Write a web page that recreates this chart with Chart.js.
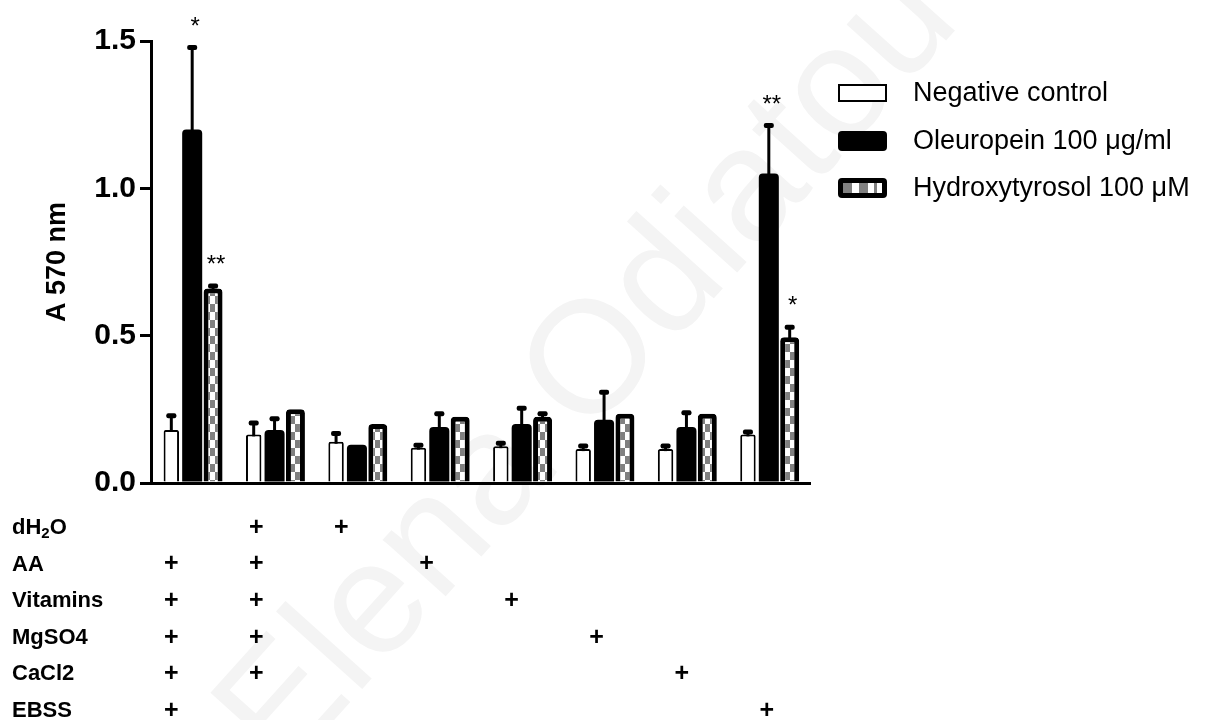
<!DOCTYPE html>
<html>
<head>
<meta charset="utf-8">
<script src="https://cdn.jsdelivr.net/npm/chart.js@4.4.1/dist/chart.umd.min.js"></script>
<style>
  html, body { margin: 0; background: #fff; }
</style>
</head>
<body>
<canvas id="chart" width="1206" height="720"></canvas>
<script>
// conditions along the x axis (composition shown in the table under the plot)
const conditions = ['Complete', 'dH2O + complete', 'dH2O', 'AA', 'Vitamins', 'MgSO4', 'CaCl2', 'EBSS'];

const seriesNames = ['Negative control', 'Oleuropein 100 \u03bcg/ml', 'Hydroxytyrosol 100 \u03bcM'];

const negativeControl = [0.18, 0.165, 0.14, 0.12, 0.125, 0.115, 0.115, 0.165];
const negativeErr     = [0.05, 0.04, 0.03, 0.01, 0.012, 0.012, 0.012, 0.01];
const oleuropein      = [1.20, 0.18, 0.13, 0.19, 0.20, 0.215, 0.19, 1.05];
const oleuropeinErr   = [0.28, 0.04, 0, 0.047, 0.055, 0.095, 0.05, 0.165];
const hydroxytyrosol  = [0.66, 0.25, 0.20, 0.225, 0.225, 0.235, 0.235, 0.495];
const hydroxyErr      = [0.01, 0, 0, 0, 0.012, 0, 0, 0.035];

const negativeStars = ['', '', '', '', '', '', '', ''];
const oleuropeinStars = ['*', '', '', '', '', '', '', '**'];
const hydroxyStars = ['**', '', '', '', '', '', '', '*'];

const yTicks = [0, 0.5, 1.0, 1.5];
const yTitle = 'A 570 nm';

// composition table
const rowLabels = ['dH_2O', 'AA', 'Vitamins', 'MgSO4', 'CaCl2', 'EBSS'];
const hasDH2O     = [0, 1, 1, 0, 0, 0, 0, 0];
const hasAA       = [1, 1, 0, 1, 0, 0, 0, 0];
const hasVitamins = [1, 1, 0, 0, 1, 0, 0, 0];
const hasMgSO4    = [1, 1, 0, 0, 0, 1, 0, 0];
const hasCaCl2    = [1, 1, 0, 0, 0, 0, 1, 0];
const hasEBSS     = [1, 0, 0, 0, 0, 0, 0, 1];
const tableRows = [hasDH2O, hasAA, hasVitamins, hasMgSO4, hasCaCl2, hasEBSS];

const FONT = '"Liberation Sans", Arial, Helvetica, sans-serif';

// grey / white checker used for the hydroxytyrosol bars
const makePattern = () => {
  const c = document.createElement('canvas');
  c.width = 10; c.height = 16;
  const g = c.getContext('2d');
  g.fillStyle = '#fff';
  g.fillRect(0, 0, 10, 16);
  g.fillStyle = '#808080';
  g.fillRect(0, 0, 5, 8);
  g.fillRect(5, 8, 5, 8);
  return document.getElementById('chart').getContext('2d').createPattern(c, 'repeat');
};
const checker = makePattern();

const roundRect = (ctx, x, y, w, h, r) => {
  ctx.beginPath();
  ctx.moveTo(x + r, y);
  ctx.lineTo(x + w - r, y);
  ctx.quadraticCurveTo(x + w, y, x + w, y + r);
  ctx.lineTo(x + w, y + h - r);
  ctx.quadraticCurveTo(x + w, y + h, x + w - r, y + h);
  ctx.lineTo(x + r, y + h);
  ctx.quadraticCurveTo(x, y + h, x, y + h - r);
  ctx.lineTo(x, y + r);
  ctx.quadraticCurveTo(x, y, x + r, y);
  ctx.closePath();
};

const watermark = {
  id: 'watermark',
  beforeDraw(chart) {
    const { ctx } = chart;
    ctx.save();
    ctx.translate(590, 370);
    ctx.rotate(-48 * Math.PI / 180);
    ctx.font = `160px ${FONT}`;
    ctx.fillStyle = '#f4f4f4';
    ctx.textAlign = 'center';
    ctx.textBaseline = 'middle';
    ctx.fillText('Elena Odiatou', 0, 0);
    ctx.restore();
  }
};

const errorBars = {
  id: 'errorBars',
  afterDatasetsDraw(chart) {
    const { ctx, scales: { y } } = chart;
    chart.data.datasets.forEach((ds, i) => {
      chart.getDatasetMeta(i).data.forEach((bar, j) => {
        const err = ds.errors[j];
        const top = y.getPixelForValue(ds.data[j] + err);
        ctx.save();
        ctx.fillStyle = '#000';
        ctx.strokeStyle = '#000';
        if (err > 0) {
          ctx.lineWidth = 3;
          ctx.beginPath();
          ctx.moveTo(bar.x, bar.y + 2);
          ctx.lineTo(bar.x, top);
          ctx.stroke();
          roundRect(ctx, bar.x - 5, top - 2, 10, 5, 2);
          ctx.fill();
        }
        const star = ds.stars[j];
        if (star) {
          ctx.font = `24px ${FONT}`;
          ctx.textAlign = 'center';
          ctx.textBaseline = 'middle';
          ctx.fillText(star, bar.x + 3, top - 20);
        }
        ctx.restore();
      });
    });
  }
};

const legendBox = {
  id: 'legendBox',
  afterDraw(chart) {
    const { ctx } = chart;
    const left = chart.chartArea.right + 28;
    const rowY = [93, 141, 188];
    chart.data.datasets.forEach((ds, i) => {
      const yy = rowY[i];
      ctx.save();
      if (i === 0) {
        ctx.fillStyle = '#fff';
        ctx.fillRect(left, yy - 9, 49, 18);
        ctx.lineWidth = 2;
        ctx.strokeStyle = '#000';
        ctx.strokeRect(left + 1, yy - 8, 47, 16);
      } else if (i === 1) {
        ctx.fillStyle = '#000';
        roundRect(ctx, left, yy - 10, 49, 20, 4);
        ctx.fill();
      } else {
        ctx.fillStyle = '#000';
        roundRect(ctx, left, yy - 10, 49, 20, 4);
        ctx.fill();
        ctx.fillStyle = '#fff';
        ctx.fillRect(left + 5, yy - 5, 39, 10);
        ctx.fillStyle = '#808080';
        ctx.fillRect(left + 5, yy - 5, 9, 10);
        ctx.fillRect(left + 21, yy - 5, 9, 10);
        ctx.fillRect(left + 36, yy - 5, 3, 10);
      }
      ctx.fillStyle = '#000';
      ctx.font = `27px ${FONT}`;
      ctx.textBaseline = 'middle';
      ctx.textAlign = 'left';
      ctx.fillText(seriesNames[i], left + 75, yy + 1);
      ctx.restore();
    });
  }
};

const compositionTable = {
  id: 'compositionTable',
  afterDraw(chart) {
    const { ctx } = chart;
    const x = chart.scales.x;
    const first = x.getPixelForValue(0) - 21;
    const last = x.getPixelForValue(conditions.length - 1) - 2;
    const step = (last - first) / (conditions.length - 1);
    const top = chart.chartArea.bottom + 45;
    ctx.save();
    ctx.fillStyle = '#000';
    ctx.textBaseline = 'middle';
    tableRows.forEach((marks, r) => {
      const yy = top + r * 36.6;
      // row label, "_x" = subscript
      let cx = 12;
      const parts = rowLabels[r].split(/(_.)/);
      parts.forEach(p => {
        if (!p) return;
        if (p[0] === '_') {
          ctx.font = `bold 15px ${FONT}`;
          ctx.textAlign = 'left';
          ctx.fillText(p[1], cx, yy + 6);
          cx += ctx.measureText(p[1]).width;
        } else {
          ctx.font = `bold 22px ${FONT}`;
          ctx.textAlign = 'left';
          ctx.fillText(p, cx, yy);
          cx += ctx.measureText(p).width;
        }
      });
      ctx.font = `bold 25px ${FONT}`;
      ctx.textAlign = 'center';
      marks.forEach((m, i) => {
        if (m) ctx.fillText('+', first + i * step, yy);
      });
    });
    ctx.restore();
  }
};

const yTitlePlugin = {
  id: 'yTitle',
  afterDraw(chart) {
    const { ctx, chartArea } = chart;
    ctx.save();
    ctx.translate(58, (chartArea.top + chartArea.bottom) / 2);
    ctx.rotate(-Math.PI / 2);
    ctx.font = `bold 27px ${FONT}`;
    ctx.fillStyle = '#000';
    ctx.textAlign = 'center';
    ctx.textBaseline = 'middle';
    ctx.fillText(yTitle, 0, 0);
    ctx.restore();
  }
};

const barBase = { categoryPercentage: 0.76, borderColor: '#000', borderSkipped: 'start' };

new Chart(document.getElementById('chart'), {
  type: 'bar',
  data: {
    labels: conditions,
    datasets: [
      { ...barBase, label: seriesNames[0], data: negativeControl, errors: negativeErr, stars: negativeStars,
        backgroundColor: '#fff', borderWidth: 2, barPercentage: 0.74, borderRadius: 2 },
      { ...barBase, label: seriesNames[1], data: oleuropein, errors: oleuropeinErr, stars: oleuropeinStars,
        backgroundColor: '#000', borderWidth: 0, barPercentage: 0.96, borderRadius: { topLeft: 4, topRight: 4 } },
      { ...barBase, label: seriesNames[2], data: hydroxytyrosol, errors: hydroxyErr, stars: hydroxyStars,
        backgroundColor: checker, borderWidth: 5, barPercentage: 0.91, borderRadius: { topLeft: 4, topRight: 4 } }
    ]
  },
  options: {
    responsive: false,
    animation: false,
    devicePixelRatio: 1,
    layout: { padding: { left: 0, right: 396, top: 41, bottom: 237 } },
    plugins: { legend: { display: false }, tooltip: { enabled: false } },
    scales: {
      x: {
        ticks: { display: false },
        grid: { display: false },
        border: { display: true, color: '#000', width: 3 },
        afterFit: s => { s.height = 0; }
      },
      y: {
        min: 0,
        max: 1.5,
        afterBuildTicks: s => { s.ticks = yTicks.map(v => ({ value: v })); },
        ticks: {
          color: '#000',
          padding: 4,
          font: { family: FONT, size: 30, weight: 'bold' },
          callback: v => v.toFixed(1)
        },
        grid: { display: true, drawOnChartArea: false, drawTicks: true, tickLength: 11, lineWidth: 3, tickWidth: 3, tickColor: '#000' },
        border: { display: true, color: '#000', width: 3 },
        afterFit: s => { s.width = 151; }
      }
    }
  },
  plugins: [watermark, errorBars, legendBox, compositionTable, yTitlePlugin]
});
</script>
</body>
</html>
